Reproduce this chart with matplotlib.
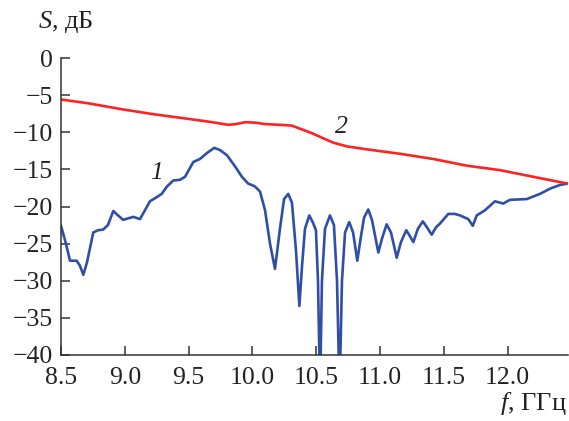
import glob
import matplotlib
matplotlib.use("Agg")
import matplotlib.pyplot as plt
from matplotlib import font_manager

# Register the Liberation Serif faces from their files and use the names they report
serif = "DejaVu Serif"
for path in sorted(glob.glob("/usr/share/fonts/**/LiberationSerif-*.ttf", recursive=True)):
    font_manager.fontManager.addfont(path)
    if path.endswith("LiberationSerif-Regular.ttf"):
        serif = font_manager.FontProperties(fname=path).get_name()

plt.rcParams["font.family"] = [serif, "DejaVu Serif"]
plt.rcParams["mathtext.fontset"] = "custom"
plt.rcParams["mathtext.rm"] = serif
plt.rcParams["mathtext.it"] = serif + ":italic"
plt.rcParams["font.size"] = 18.5

# Curve 1: measured S-parameter, dB
freq_1 = [8.500, 8.531, 8.571, 8.623, 8.649, 8.675, 8.704, 8.753, 8.790, 8.831,
          8.868, 8.910, 8.947, 8.988, 9.025, 9.067, 9.119, 9.158, 9.197, 9.245,
          9.289, 9.331, 9.380, 9.433, 9.472, 9.537, 9.589, 9.644, 9.701, 9.746,
          9.801, 9.864, 9.918, 9.966, 10.020, 10.060, 10.099, 10.138, 10.177, 10.216,
          10.248, 10.281, 10.310, 10.342, 10.368, 10.389, 10.412, 10.446, 10.475, 10.498,
          10.514, 10.530, 10.545, 10.569, 10.608, 10.639, 10.663, 10.683, 10.702, 10.726,
          10.759, 10.789, 10.822, 10.851, 10.875, 10.908, 10.937, 10.987, 11.016, 11.052,
          11.086, 11.131, 11.164, 11.206, 11.235, 11.261, 11.297, 11.335, 11.368, 11.405,
          11.439, 11.470, 11.535, 11.587, 11.627, 11.692, 11.727, 11.758, 11.823, 11.901,
          11.966, 12.019, 12.150, 12.254, 12.332, 12.410, 12.473]
s_1 = [-22.6, -24.5, -27.3, -27.3, -28.0, -29.2, -27.5, -23.5, -23.2, -23.1,
       -22.5, -20.6, -21.2, -21.8, -21.6, -21.4, -21.7, -20.5, -19.3, -18.8,
       -18.3, -17.3, -16.5, -16.4, -16.0, -14.0, -13.6, -12.8, -12.1, -12.4,
       -13.1, -14.6, -16.0, -16.9, -17.3, -18.0, -20.5, -25.0, -28.4, -23.0,
       -19.0, -18.3, -19.5, -26.0, -33.4, -28.0, -23.0, -21.2, -22.2, -23.2,
       -30.0, -45.0, -30.0, -23.0, -21.2, -22.5, -30.0, -45.0, -30.0, -23.5,
       -22.1, -23.5, -27.3, -24.0, -21.5, -20.4, -21.8, -26.2, -24.3, -22.4,
       -23.5, -26.9, -24.8, -23.2, -24.0, -24.8, -23.0, -22.0, -22.8, -23.8,
       -22.8, -22.3, -21.0, -21.0, -21.2, -21.7, -22.6, -21.2, -20.5, -19.3,
       -19.6, -19.1, -19.0, -18.3, -17.6, -17.1, -16.9]

# Curve 2
freq_2 = [8.505, 8.714, 8.976, 9.237, 9.498, 9.668, 9.811, 9.871, 9.942, 10.020,
          10.099, 10.216, 10.308, 10.386, 10.477, 10.553, 10.634, 10.739, 10.896, 11.157,
          11.418, 11.679, 11.940, 12.201, 12.466]
s_2 = [-5.6, -6.1, -6.9, -7.6, -8.2, -8.6, -9.0, -8.9, -8.65, -8.7,
       -8.9, -9.0, -9.1, -9.6, -10.2, -10.8, -11.4, -11.9, -12.3, -12.9,
       -13.6, -14.5, -15.1, -16.0, -16.9]

x_ticks = [8.5, 9.0, 9.5, 10.0, 10.5, 11.0, 11.5, 12.0]
y_ticks = [0, -5, -10, -15, -20, -25, -30, -35, -40]

fig = plt.figure(figsize=(5.69, 4.21), dpi=100)
ax = fig.add_axes([0.1072, 0.1568, 0.8903, 0.7054])

ax.plot(freq_1, s_1, color="#2f4ea8", lw=1.9, solid_joinstyle="round")
ax.plot(freq_2, s_2, color="#ff2222", lw=1.9, solid_joinstyle="round")

ax.set_xlim(8.5, 12.47)
ax.set_ylim(-40, 0)
ax.set_xticks(x_ticks)
ax.set_xticklabels([f"{v:.1f}" for v in x_ticks])
ax.set_yticks(y_ticks)
ax.set_yticklabels([f"{v}".replace("-", "\u2212") for v in y_ticks])

for side in ("top", "right"):
    ax.spines[side].set_visible(False)
for side in ("left", "bottom"):
    ax.spines[side].set_linewidth(1.1)
    ax.spines[side].set_color("#333333")
ax.tick_params(direction="in", length=6.5, width=1.1, color="#333333",
               labelcolor="#222222")
ax.tick_params(axis="x", pad=8.5)
ax.tick_params(axis="y", pad=6)

ax.text(9.25, -15.5, "1", style="italic", ha="center", va="center", color="#222222")
ax.text(10.70, -9.3, "2", style="italic", ha="center", va="center", color="#222222")

fig.text(38 / 569, 1 - 28 / 421, r"$S$, дБ", ha="left", va="baseline",
         color="#222222", fontsize=19)
fig.text(567 / 569, 1 - 410 / 421, r"$f$, ГГц", ha="right", va="baseline",
         color="#222222", fontsize=19)

fig.savefig("out.png", dpi=100)
